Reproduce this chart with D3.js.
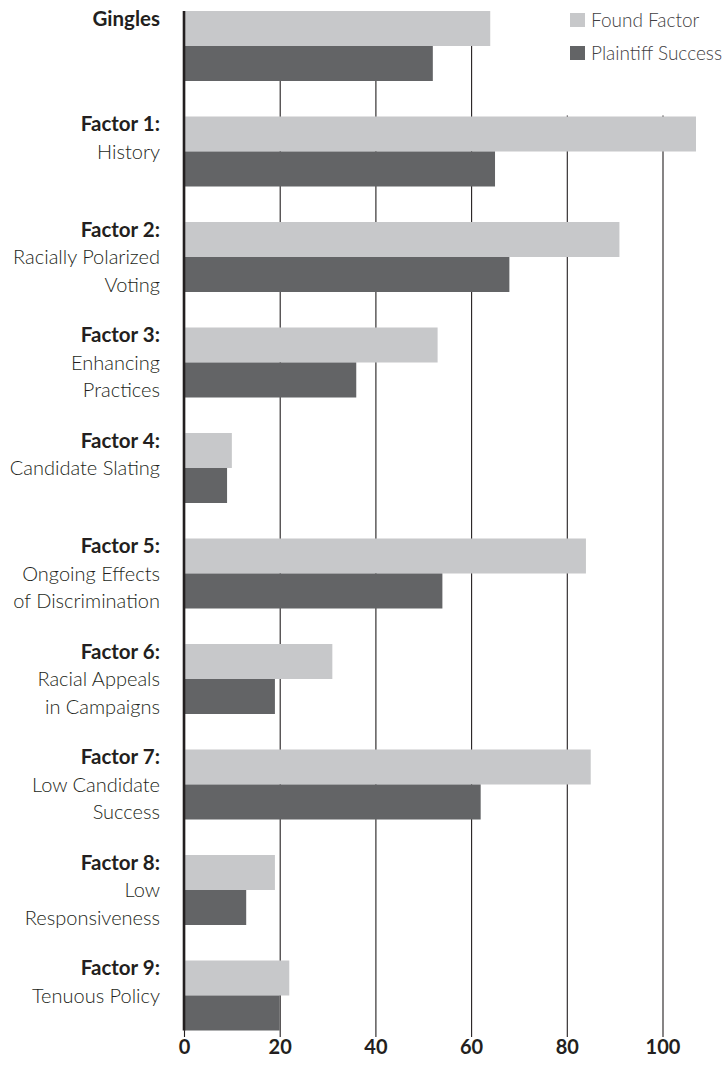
<!DOCTYPE html>
<html>
<head>
<meta charset="utf-8">
<script src="https://cdn.jsdelivr.net/npm/d3@7"></script>
<style>
  html, body { margin: 0; padding: 0; background: #fff; }
  svg { display: block; }
  text { font-family: Lato, "Open Sans", sans-serif; }
</style>
</head>
<body>
<svg id="chart" width="724" height="1078"></svg>
<script>
// ---- data ----
const categories = ["Gingles", "Factor 1", "Factor 2", "Factor 3", "Factor 4", "Factor 5", "Factor 6", "Factor 7", "Factor 8", "Factor 9"];
const labelBold = ["Gingles", "Factor 1:", "Factor 2:", "Factor 3:", "Factor 4:", "Factor 5:", "Factor 6:", "Factor 7:", "Factor 8:", "Factor 9:"];
const labelSub = [
  [],
  ["History"],
  ["Racially Polarized", "Voting"],
  ["Enhancing", "Practices"],
  ["Candidate Slating"],
  ["Ongoing Effects", "of Discrimination"],
  ["Racial Appeals", "in Campaigns"],
  ["Low Candidate", "Success"],
  ["Low", "Responsiveness"],
  ["Tenuous Policy"]
];
const foundFactor = [64, 107, 91, 53, 10, 84, 31, 85, 19, 22];
const plaintiffSuccess = [52, 65, 68, 36, 9, 54, 19, 62, 13, 20];
const seriesNames = ["Found Factor", "Plaintiff Success"];
const tickValues = [0, 20, 40, 60, 80, 100];

// ---- setup ----
const colors = ["#c7c8ca", "#636466"];
const ink = "#231f20";
const svg = d3.select("#chart");

const x = d3.scaleLinear().domain([0, 100]).range([184, 662.5]);
const y = d3.scaleBand().domain(categories).range([11, 1030.5]).paddingInner(0.3365).paddingOuter(0);
const sub = d3.scaleBand().domain(seriesNames).range([0, y.bandwidth()]);

// gridlines + tick labels via axis
const axis = d3.axisBottom(x).tickValues(tickValues).tickSize(1026).tickPadding(3).tickFormat(d3.format("d"));
const gAxis = svg.append("g").attr("transform", "translate(0,11)").call(axis);
gAxis.select(".domain").remove();
gAxis.selectAll(".tick line").attr("stroke", ink).attr("stroke-width", 1.1);
gAxis.selectAll(".tick text")
  .attr("fill", ink)
  .attr("font-size", 20)
  .attr("font-weight", 700)
  .attr("font-family", "Lato, 'Open Sans', sans-serif");

// legend background (hides gridlines under the legend)
svg.append("rect").attr("x", 520).attr("y", 0).attr("width", 204).attr("height", y("Factor 1") - 1).attr("fill", "#fff");

// bars
const data = categories.map((c, i) => ({ c, vals: [foundFactor[i], plaintiffSuccess[i]] }));
const groups = svg.append("g").selectAll("g").data(data).join("g")
  .attr("transform", d => `translate(0,${y(d.c)})`);
groups.selectAll("rect").data(d => d.vals.map((v, k) => ({ v, k }))).join("rect")
  .attr("x", x(0))
  .attr("y", d => sub(seriesNames[d.k]))
  .attr("width", d => x(d.v) - x(0))
  .attr("height", sub.bandwidth())
  .attr("fill", d => colors[d.k]);

// thick axis line
svg.append("line")
  .attr("x1", x(0)).attr("x2", x(0))
  .attr("y1", y.range()[0]).attr("y2", y.range()[1])
  .attr("stroke", ink).attr("stroke-width", 2.6);

// category labels
const labG = svg.append("g");
categories.forEach((c, i) => {
  const top = y(c);
  const t = labG.append("text").attr("text-anchor", "end").attr("x", 160).attr("fill", ink).attr("font-size", 20);
  t.append("tspan").attr("x", 160).attr("y", top + 14.5).attr("font-weight", 700).attr("font-size", 20.5).text(labelBold[i]);
  labelSub[i].forEach((s, j) => {
    t.append("tspan").attr("x", 160).attr("y", top + 14.5 + 27.5 * (j + 1)).attr("font-weight", 300).text(s);
  });
});

// legend
const leg = svg.append("g");
seriesNames.forEach((n, k) => {
  const ly = 13 + k * 33;
  leg.append("rect").attr("x", 570).attr("y", ly).attr("width", 15).attr("height", 14).attr("fill", colors[k]);
  leg.append("text").attr("x", 591).attr("y", ly + 13.5).attr("font-size", 19).attr("font-weight", 300)
    .attr("fill", "#414042").text(n);
});
</script>
</body>
</html>
